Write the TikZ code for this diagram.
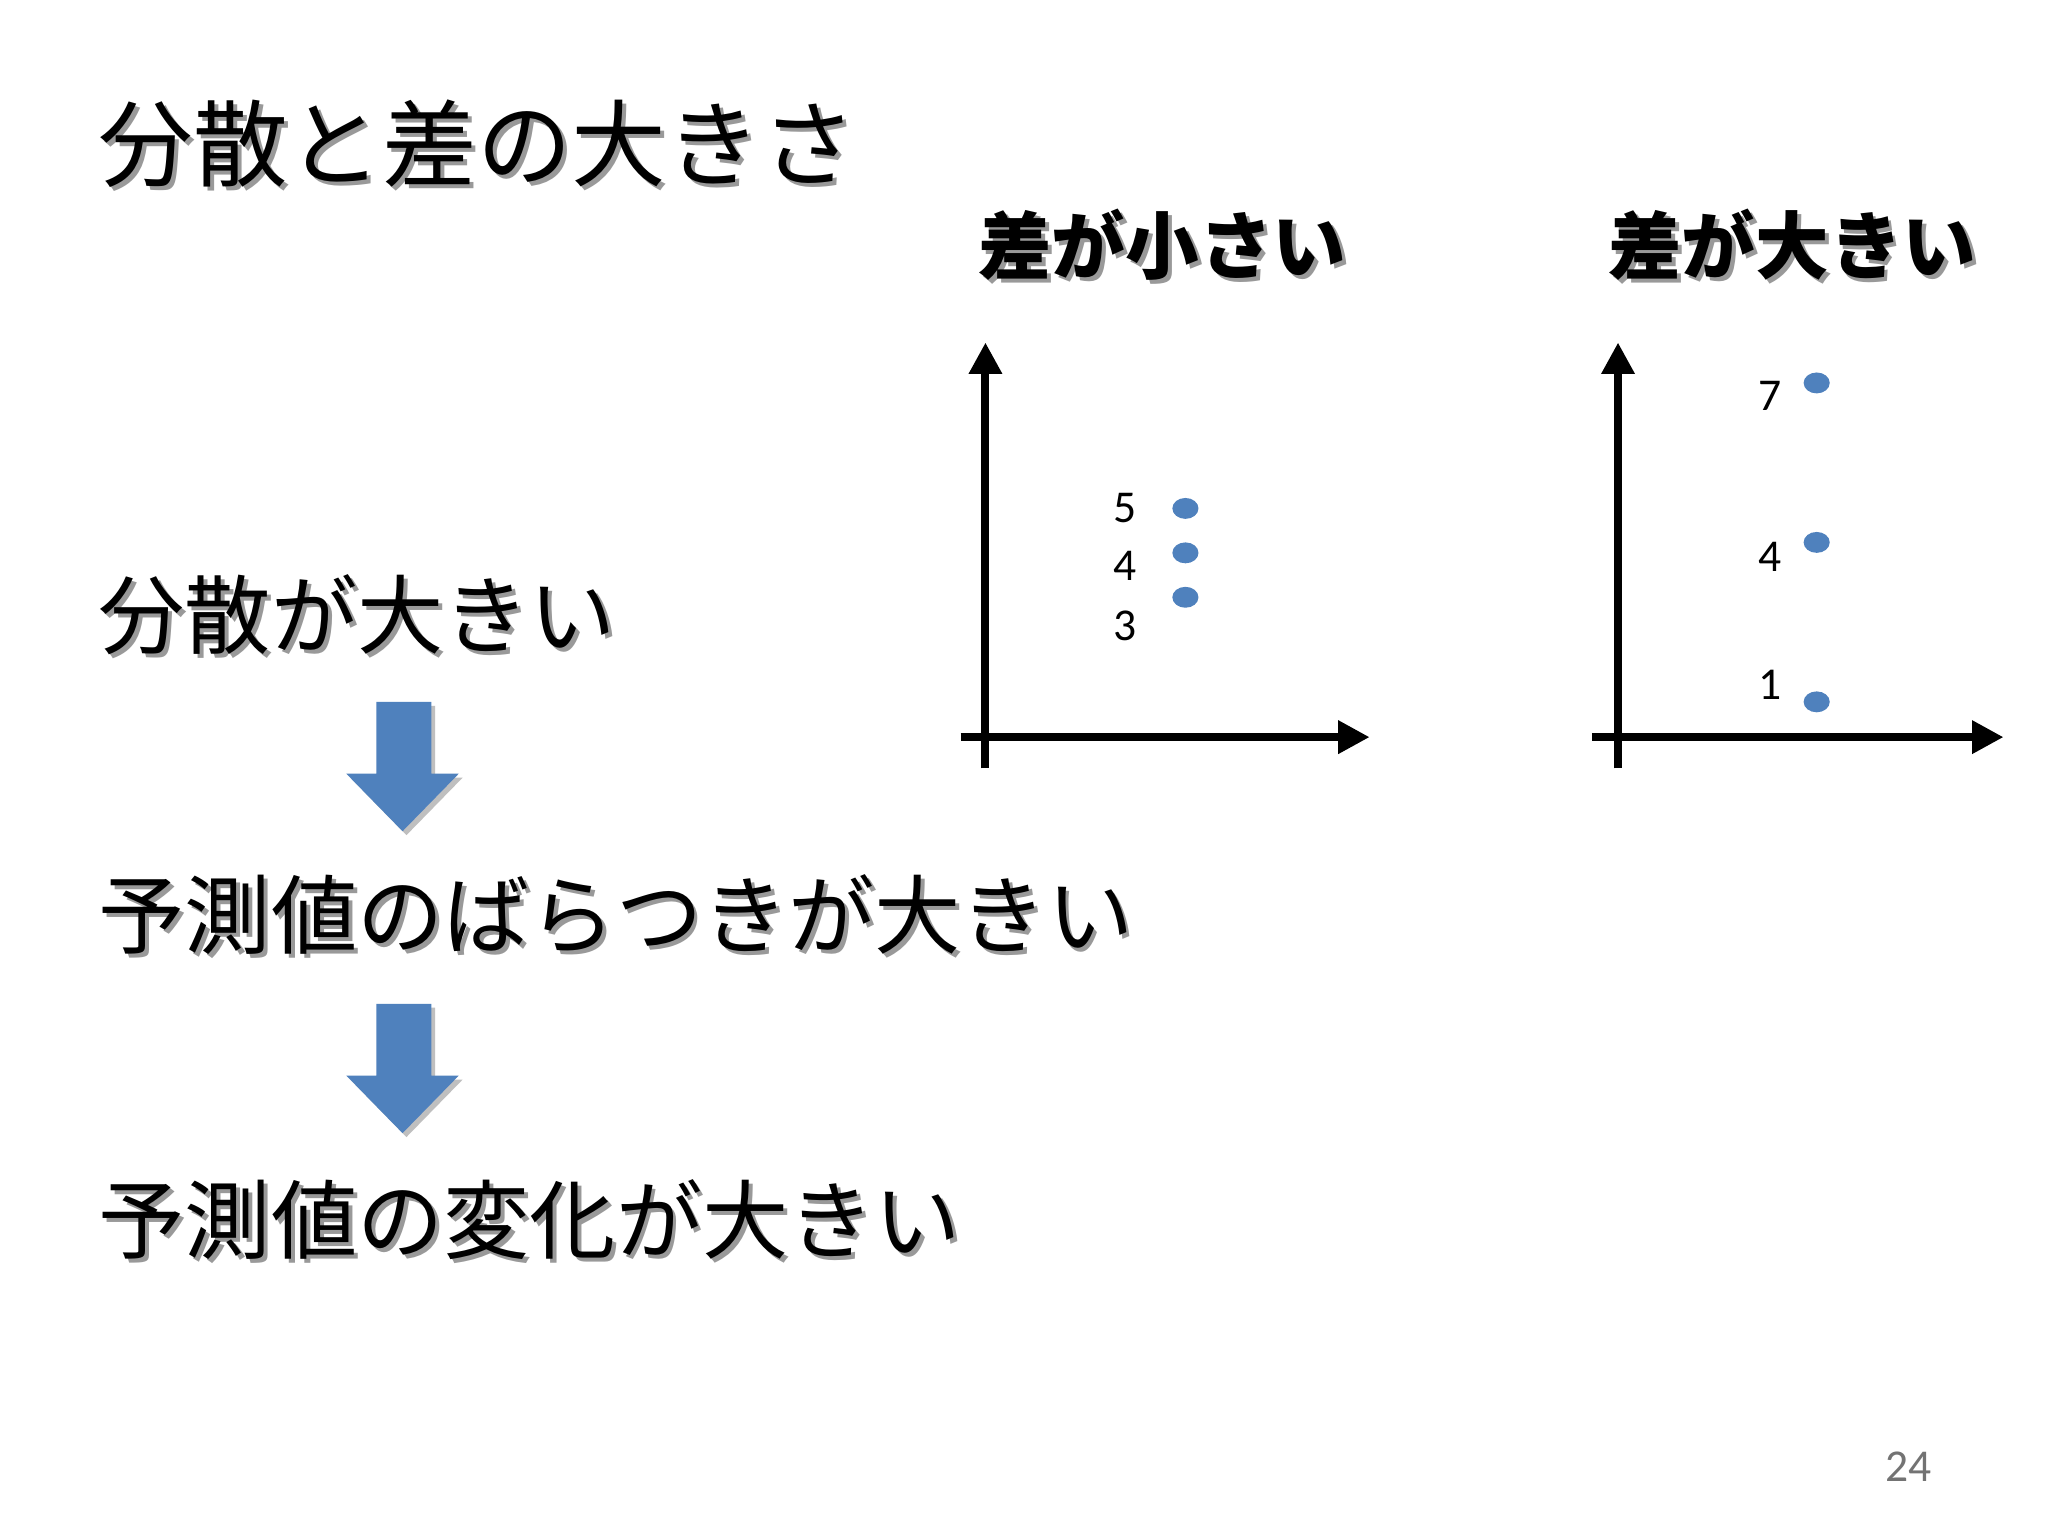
\documentclass[tikz,border=0pt]{standalone}
\usepackage{fontspec}
\newfontfamily\cjk{Noto Sans CJK JP}
\newfontfamily\calfont{Carlito}
\usetikzlibrary{arrows.meta}
\definecolor{bl}{HTML}{4F81BD}
\tikzset{
 big/.style={anchor=west,inner sep=0,font=\cjk\fontsize{27}{30}\selectfont},
 mid/.style={anchor=west,inner sep=0,font=\cjk\fontsize{24.6}{28}\selectfont},
 hd/.style={anchor=west,inner sep=0,font=\cjk\bfseries\fontsize{21}{24}\selectfont},
 sh/.style={text=black!40},
 ax/.style={line width=2.3pt,-{Triangle[length=9pt,width=9pt]}},
 num/.style={font=\calfont\fontsize{13}{15}\selectfont,inner sep=0}
}
\begin{document}
\begin{tikzpicture}[x=0.0131cm,y=-0.0131cm]
\useasboundingbox[fill=white] (0,0) rectangle (1567,1175);
\foreach \n/\x/\y/\s/\t in {t/75/110/big/分散と差の大きさ, a/75/470/mid/分散が大きい, b/75/700/mid/予測値のばらつきが大きい, c/75/933/mid/予測値の変化が大きい, h1/748/187/hd/差が小さい, h2/1230/187/hd/差が大きい}{
 \node[\s,sh] (\n s) at (\x+3,\y+3) {\t};
 \node[\s] (\n) at (\x,\y) {\t};
}
\foreach \k/\ty in {1/537,2/768}{
 \fill[black!25] (291,\ty+3) coordinate (ar\k s) -- (333,\ty+3) -- (333,\ty+58) -- (354,\ty+58) -- (311,\ty+102) -- (268,\ty+58) -- (291,\ty+58) -- cycle;
 \fill[bl] (288,\ty) coordinate (ar\k) -- (330,\ty) -- (330,\ty+55) -- (351,\ty+55) -- (308,\ty+99) -- (265,\ty+55) -- (288,\ty+55) -- cycle;
}
\coordinate (o1b) at (754,588); \coordinate (o1t) at (754,262);
\coordinate (o1l) at (735,564); \coordinate (o1r) at (1048,564);
\draw[ax] (o1b) -- (o1t);
\draw[ax] (o1l) -- (o1r);
\coordinate (o2b) at (1238,588); \coordinate (o2t) at (1238,262);
\coordinate (o2l) at (1218,564); \coordinate (o2r) at (1533,564);
\draw[ax] (o2b) -- (o2t);
\draw[ax] (o2l) -- (o2r);
\foreach \x/\y in {907/389,907/423,907/457,1390/293,1390/415,1390/537}{
 \fill[bl] (\x,\y) ellipse [x radius=10, y radius=8];
}
\node[num] (n5) at (861,389) {5};
\node[num] (n4) at (861,433) {4};
\node[num] (n3) at (861,479) {3};
\node[num] (m7) at (1354,303) {7};
\node[num] (m4) at (1354,426) {4};
\node[num] (m1) at (1354,524) {1};
\node[num,text=black!55] (pg) at (1460,1122) {24};
\end{tikzpicture}
\end{document}
